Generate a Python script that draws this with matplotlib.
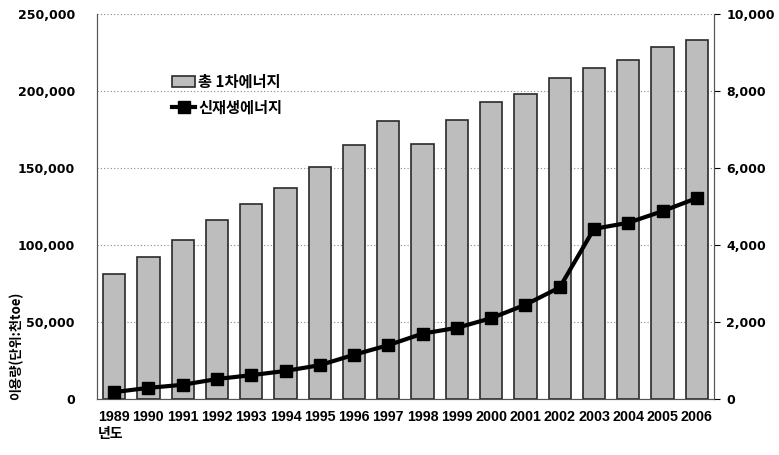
import numpy as np
import matplotlib.pyplot as plt
from matplotlib.ticker import FuncFormatter

plt.rcParams['font.family'] = ['Noto Sans CJK KR', 'DejaVu Sans']

# 데이터
years = ['1989', '1990', '1991', '1992', '1993', '1994', '1995', '1996', '1997',
         '1998', '1999', '2000', '2001', '2002', '2003', '2004', '2005', '2006']
total_primary = [81000, 92500, 103600, 116000, 126900, 137200, 150400, 165200, 180600,
                 165900, 181400, 192900, 198400, 208600, 215100, 220200, 228600, 233400]
renewable = [180, 290, 370, 520, 620, 730, 880, 1150, 1400,
             1700, 1850, 2100, 2450, 2900, 4420, 4580, 4880, 5220]

fig = plt.figure(figsize=(7.79, 4.55), dpi=100)
ax = fig.add_axes([0.1245, 0.123, 0.792, 0.846])
x = np.arange(len(years))

ax.bar(x, total_primary, width=0.65, color='#bdbdbd', edgecolor='#2a2a2a', linewidth=1.2,
       label='총 1차에너지', zorder=2)
ax.set_ylim(0, 250000)
ax.set_xlim(-0.5, len(years) - 0.5)
ax.set_yticks(np.arange(0, 250001, 50000))
ax.yaxis.set_major_formatter(FuncFormatter(lambda v, p: f'{int(v):,}'))
ax.grid(axis='y', linestyle=(0, (1, 2)), color='#888888', linewidth=0.8, zorder=0)
ax.set_xticks(x)
ax.set_xticklabels(years, fontfamily='Liberation Sans', fontweight='bold', fontsize=10.3)
ax.tick_params(axis='x', length=0, pad=8)
ax.tick_params(axis='y', length=0, pad=16, labelsize=9)
for lab in ax.get_yticklabels():
    lab.set_fontfamily('DejaVu Sans')
    lab.set_fontweight('bold')

ax2 = ax.twinx()
ax2.plot(x, renewable, color='black', linewidth=3, marker='s', markersize=8,
         label='신재생에너지', zorder=3)
ax2.set_ylim(0, 10000)
ax2.set_yticks(np.arange(0, 10001, 2000))
ax2.yaxis.set_major_formatter(FuncFormatter(lambda v, p: f'{int(v):,}'))
ax2.tick_params(axis='y', length=4, pad=5, labelsize=9)
for lab in ax2.get_yticklabels():
    lab.set_fontfamily('DejaVu Sans')
    lab.set_fontweight('bold')

for a in (ax, ax2):
    for s in a.spines.values():
        s.set_color('#555555')
        s.set_linewidth(0.8)
    a.spines['top'].set_visible(False)

h1, l1 = ax.get_legend_handles_labels()
h2, l2 = ax2.get_legend_handles_labels()
ax.legend(h1 + h2, l1 + l2, loc='upper left', bbox_to_anchor=(0.1, 0.88), frameon=False,
          prop={'weight': 'bold', 'size': 11}, handlelength=1.5, handletextpad=0.2,
          labelspacing=0.6)

fig.text(0.012, 0.12, '이용량(단위:천toe)', rotation=90, ha='left', va='bottom',
         fontsize=9.5, fontweight='bold')
fig.text(0.125, 0.03, '년도', ha='left', va='bottom', fontsize=10, fontweight='bold')

plt.savefig('out.png', dpi=100)
